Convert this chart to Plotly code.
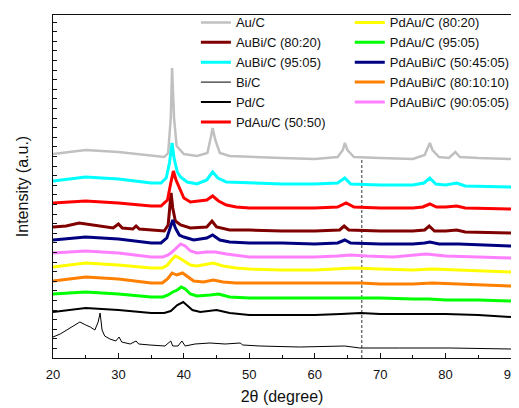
import plotly.graph_objects as go

# ---------------- data (2θ in degrees, intensity in a.u.) ----------------
au_c_x = [20, 25, 30, 35, 37, 37.6, 38.0, 38.2, 38.5, 38.9, 40, 42, 43.6, 44.1, 44.4, 44.8, 45.5, 47, 50, 55, 60,
          63.5, 64.3, 64.6, 65.0, 66, 70, 75, 76.8, 77.3, 77.6, 78.0, 79, 80.5, 81.5, 82.2, 85, 90]
au_c_y = [204, 208, 206, 202, 201, 205, 240, 290, 240, 212, 204, 202, 205, 220, 230, 218, 205, 202, 201, 200, 199,
          201, 208, 215, 208, 201, 200, 199, 203, 210, 215, 208, 201, 200, 206, 201, 200, 199]

aubi_95_x = [20, 25, 30, 35, 36.5, 37.3, 37.8, 38.2, 38.5, 39, 39.5, 40.5, 42, 43.5, 44.4, 45.2, 46.5, 50, 55, 60,
             63.5, 64.6, 65.5, 70, 75, 76.7, 77.6, 78.5, 80, 81.7, 83, 90]
aubi_95_y = [177, 181, 179, 175, 175, 180, 195, 215, 200, 186, 181, 176, 174, 178, 186, 180, 176, 175, 174, 174,
             175, 180, 174, 173, 173, 175, 180, 174, 173, 175, 172, 171]

pdau_5050_x = [20, 25, 30, 35, 36.5, 37.5, 38.0, 38.4, 38.8, 39.4, 40, 41, 42, 43.5, 44.4, 45.3, 46.5, 48, 50, 55,
               60, 63.5, 64.8, 66, 70, 75, 76.5, 77.6, 78.6, 80, 81.7, 83, 90]
pdau_5050_y = [155, 157, 155, 152, 152, 158, 175, 187, 178, 168, 160, 156, 157, 158, 162, 157, 153, 151, 150, 150,
               150, 151, 155, 151, 150, 150, 151, 154, 151, 151, 152, 150, 149]

aubi_8020_x = [20, 22, 24, 26, 29.2, 30.0, 30.6, 32.2, 32.7, 33.2, 35, 37, 37.6, 37.9, 38.05, 38.3, 38.7, 39.5, 41,
               43.5, 44.3, 45, 47, 50, 55, 60, 63.8, 64.5, 65.2, 70, 75, 76.8, 77.5, 78.3, 80, 81.7, 83, 90]
aubi_8020_y = [131, 132, 135, 133, 130, 134, 130, 129, 132, 129, 128, 127, 133, 155, 165, 150, 137, 133, 130,
               131, 137, 131, 128, 128, 127, 127, 128, 132, 128, 127, 127, 128, 132, 127, 127, 128, 126, 125]

pdaubi_504505_x = [20, 25, 30, 35, 36.5, 37.4, 37.9, 38.3, 38.7, 39.3, 40, 41.5, 43.5, 44.4, 45.5, 47, 50, 55, 60,
                   63.5, 64.6, 65.5, 70, 75, 76.8, 77.6, 79, 82, 90]
pdaubi_504505_y = [118, 121, 119, 115, 115, 120, 130, 138, 130, 123, 121, 118, 120, 123, 118, 116, 115, 115, 114,
                   115, 118, 115, 114, 114, 115, 116, 114, 114, 112]

pdaubi_900505_x = [20, 25, 30, 35, 36.8, 37.6, 38.2, 38.8, 39.5, 40.2, 41, 42, 43.5, 44.8, 46.5, 50, 55, 60, 63.5,
                   65.5, 68, 72, 77, 80, 85, 90]
pdaubi_900505_y = [105, 107, 105, 101, 101, 103, 106, 110, 114, 112, 107, 105, 106, 106, 104, 101, 101, 101, 102,
                   103, 102, 101, 104, 102, 101, 100]

pdau_8020_x = [20, 25, 30, 35, 36.7, 37.5, 38.1, 38.7, 39.3, 40, 41, 42, 44.5, 46, 48, 50, 55, 60, 64, 66, 70, 75,
               78, 82, 86, 90]
pdau_8020_y = [91, 95, 93, 90, 90, 93, 98, 102, 100, 97, 93, 92, 95, 92, 90, 89, 88, 88, 89, 90, 89, 88, 89, 88,
               87, 86]

pdaubi_801010_x = [20, 25, 30, 35, 36.7, 37.5, 38.2, 38.9, 39.8, 40.6, 41.5, 43, 44.5, 46, 48, 50, 55, 60, 64, 67,
                   70, 75, 78, 82, 86, 90]
pdaubi_801010_y = [77, 81, 79, 75, 75, 79, 85, 83, 85, 81, 77, 76, 78, 76, 75, 75, 75, 75, 75, 75, 74, 74, 75, 74,
                   73, 72]

pdau_9505_x = [20, 25, 30, 35, 36.8, 37.6, 38.3, 39, 39.6, 40.2, 41, 42, 44, 45.3, 47, 50, 55, 60, 64, 67, 70, 75,
               77.5, 80, 85, 90]
pdau_9505_y = [64, 66, 64, 61, 61, 63, 66, 68, 71, 69, 64, 62, 63, 64, 61, 60, 60, 60, 60, 60, 60, 59, 59, 58, 58,
               57]

pd_c_x = [20, 25, 30, 35, 37, 38, 39, 39.9, 40.6, 41.3, 42.5, 45, 47, 50, 55, 60, 64, 67, 70, 75, 80, 85, 90]
pd_c_y = [46, 50, 48, 45, 45, 47, 53, 56, 52, 48, 46, 48, 45, 43, 43, 43, 44, 45, 44, 44, 44, 43, 41]

bi_c_x = [20.0, 21.1, 22.6, 23.5, 24.1, 25.0, 25.7, 26.4, 26.9, 27.2, 27.5, 27.9, 28.7, 29.6, 30.1, 30.5, 31.8,
          32.7, 33.1, 34.8, 37.1, 38.0, 38.3, 39.1, 39.7, 40.2, 41.7, 44.0, 46.3, 48.6, 49.0, 51.6, 57.7, 64.6,
          66.9, 73.0, 80.7, 90.0]
bi_c_y = [21, 24, 30, 34, 36, 33, 31, 28, 36, 45, 28, 22, 19, 17, 21, 16, 14, 17, 14, 13, 12, 17, 12, 12, 17, 12,
          14, 15, 14, 15, 13, 12, 11, 12, 10, 10, 10, 9]

ref_line_2theta = 67.2
ref_line_range = [0, 200]

x_range = [20, 90]
y_range = [0, 343]
x_ticks = [20, 30, 40, 50, 60, 70, 80, 90]

# (name, x, y, colour, width, legend)
series = [
    ("Au/C", au_c_x, au_c_y, "#C0C0C0", 2.5, "legend"),
    ("AuBi/C (80:20)", aubi_8020_x, aubi_8020_y, "#800000", 3, "legend"),
    ("AuBi/C (95:05)", aubi_95_x, aubi_95_y, "#00FFFF", 3, "legend"),
    ("Bi/C", bi_c_x, bi_c_y, "#000000", 1, "legend"),
    ("Pd/C", pd_c_x, pd_c_y, "#000000", 2, "legend"),
    ("PdAu/C (50:50)", pdau_5050_x, pdau_5050_y, "#FF0000", 3, "legend"),
    ("PdAu/C (80:20)", pdau_8020_x, pdau_8020_y, "#FFFF00", 3, "legend2"),
    ("PdAu/C (95:05)", pdau_9505_x, pdau_9505_y, "#00FF00", 3, "legend2"),
    ("PdAuBi/C (50:45:05)", pdaubi_504505_x, pdaubi_504505_y, "#000080", 3, "legend2"),
    ("PdAuBi/C (80:10:10)", pdaubi_801010_x, pdaubi_801010_y, "#FF8000", 3, "legend2"),
    ("PdAuBi/C (90:05:05)", pdaubi_900505_x, pdaubi_900505_y, "#FF80FF", 3, "legend2"),
]

FONT = "Arial, Liberation Sans, sans-serif"

fig = go.Figure()
fig.add_trace(go.Scatter(x=[ref_line_2theta, ref_line_2theta], y=ref_line_range, mode="lines",
                         line=dict(color="#333333", width=1, dash="3px,2px"), showlegend=False,
                         hoverinfo="skip"))
for name, xs, ys, col, w, lg in series:
    fig.add_trace(go.Scatter(x=xs, y=ys, mode="lines", name=name, legend=lg,
                             line=dict(color=col, width=w)))

legend_common = dict(bgcolor="rgba(0,0,0,0)", borderwidth=0, font=dict(family=FONT, size=13, color="#111"),
                     yanchor="top", xanchor="left", tracegroupgap=0, itemwidth=30)

# the page body adds an 8px offset, so the figure is 8px smaller than the window
fig.update_layout(
    width=511, height=400,
    margin=dict(l=45, r=8, t=7, b=50, autoexpand=False),
    paper_bgcolor="white", plot_bgcolor="white",
    font=dict(family=FONT, size=13, color="#111"),
    legend=dict(x=0.312, y=1.022, **legend_common),
    legend2=dict(x=0.648, y=1.022, **legend_common),
    xaxis=dict(range=x_range, tickvals=x_ticks, ticks="inside", ticklen=5, tickcolor="#111",
               showline=True, linecolor="#111", linewidth=1, mirror=True, showgrid=False, zeroline=False,
               automargin=False, ticklabelstandoff=4,
               minor=dict(dtick=5, ticks="inside", ticklen=3, tickcolor="#111"),
               tickfont=dict(size=13), title=dict(text="2θ (degree)", font=dict(size=16), standoff=10)),
    yaxis=dict(range=y_range, dtick=9.6, tick0=0, ticks="inside", ticklen=4, tickcolor="#111",
               showticklabels=False, showline=True, linecolor="#111", linewidth=1, mirror=True,
               showgrid=False, zeroline=False, automargin=False,
               title=dict(text="Intensity (a.u.)", font=dict(size=16), standoff=19)),
)

fig.write_html("out.html")
